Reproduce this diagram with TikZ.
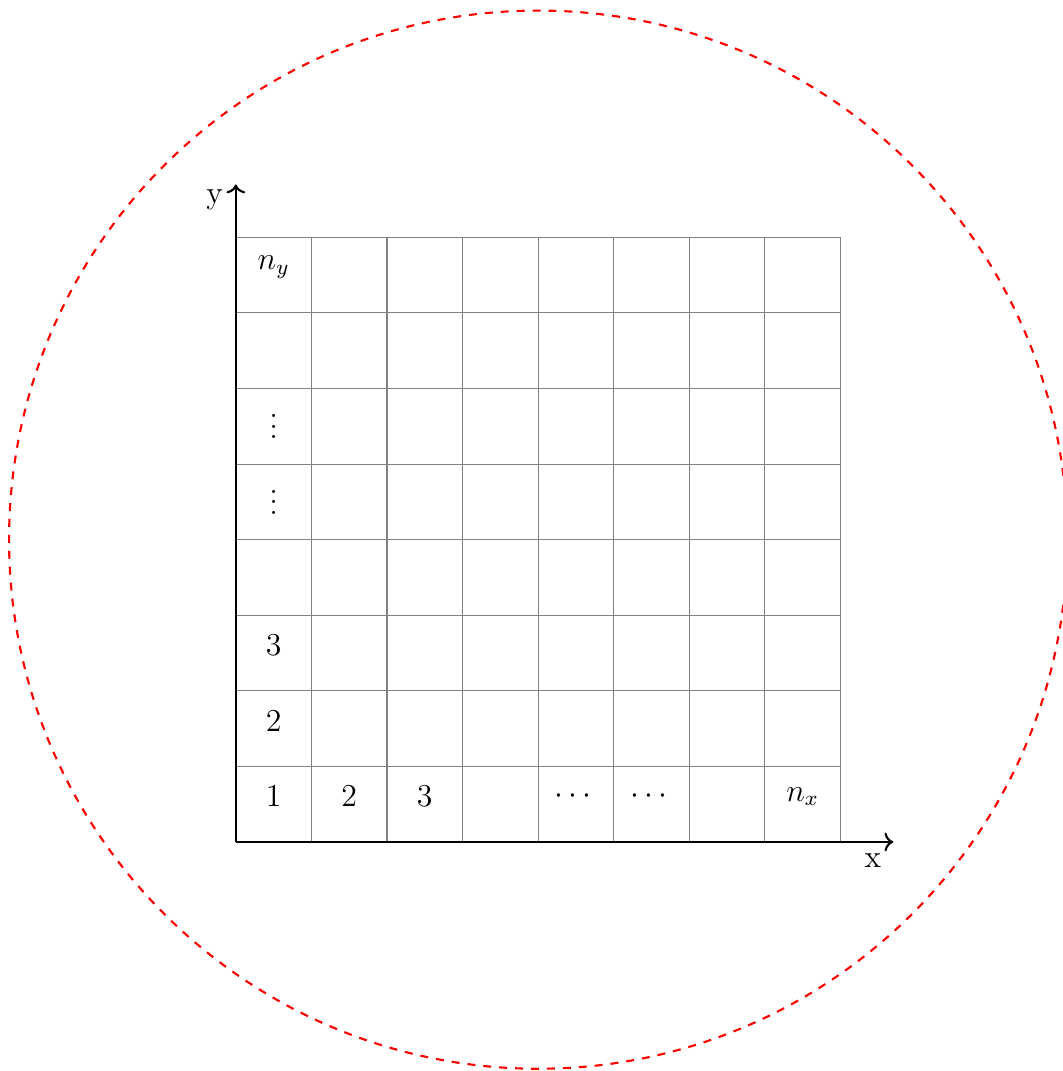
\documentclass[tikz,border=0pt]{standalone}
\usepackage{amsmath}
\usepackage{tikz}
\usetikzlibrary{arrows.meta,positioning}

\begin{document}
\begin{tikzpicture}
            \useasboundingbox (-3.12,-3.03) rectangle (10.94,11.14);
            \draw[gray, thin] (0,0) grid (8,8);
            \draw[red, thick, dashed] (4,4) circle (7);
            \coordinate (O) at (0,0);
            \coordinate (xend) at (8.7,0);
            \coordinate (yend) at (0,8.7);
            \draw[thick, ->] (O) -- (xend);
            \draw[thick, ->] (O) -- (yend);
            \node (xlab) at (8.43,-0.25) {\large x};
            \node (ylab) at (-0.28,8.5) {\large y};
            \node (c11) at (0.5,0.6) {\large $1$};
            \node (c21) at (1.5,0.6) {\large $2$};
            \node (c31) at (2.5,0.6) {\large $3$};
            \node (c51) at (4.5,0.6) {\large $\cdots$};
            \node (c61) at (5.5,0.6) {\large $\cdots$};
            \node (cnx) at (7.5,0.6) {\large $n_x$};
            \node (c12) at (0.5,1.6) {\large $2$};
            \node (c13) at (0.5,2.6) {\large $3$};
            \node (c15) at (0.5,4.6) {\large $\vdots$};
            \node (c16) at (0.5,5.6) {\large $\vdots$};
            \node (cny) at (0.5,7.6) {\large $n_y$};
        \end{tikzpicture}
\end{document}
